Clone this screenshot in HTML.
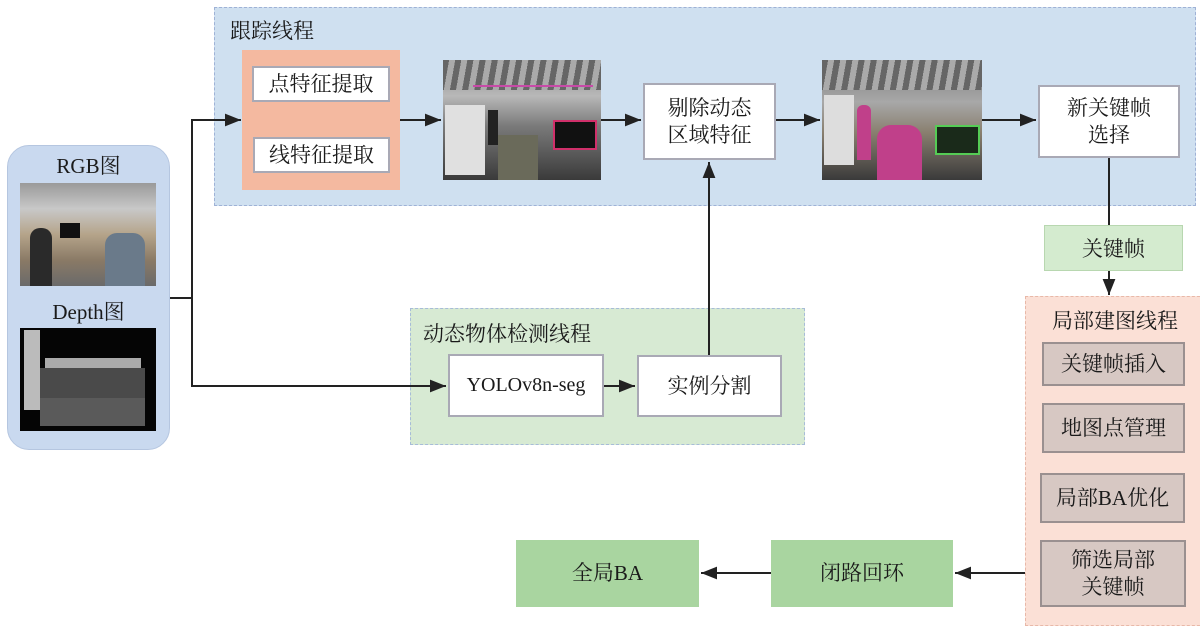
<!DOCTYPE html>
<html><head><meta charset="utf-8"><style>
body{margin:0;width:1200px;height:618px;background:#fff;position:relative;overflow:hidden;font-family:"Liberation Serif","Noto Serif CJK SC",serif;color:#1a1a1a}
.a{position:absolute;box-sizing:border-box}
.box{position:absolute;box-sizing:border-box;background:#fff;border:2px solid #a9a9b5;display:flex;align-items:center;justify-content:center;text-align:center;font-size:21px;line-height:27px}
.t{position:absolute;font-size:21px;white-space:nowrap}
</style></head><body>
<div class="a" style="left:214px;top:7px;width:982px;height:199px;background:#cfe0f0;border:1.5px dashed #9fb2d6"></div>
<div class="t" style="left:230px;top:15px">跟踪线程</div>
<div class="a" style="left:242px;top:50px;width:158px;height:140px;background:#f4b9a0"></div>
<div class="box" style="left:252px;top:66px;width:138px;height:36px">点特征提取</div>
<div class="box" style="left:253px;top:137px;width:137px;height:36px">线特征提取</div>
<div class="a" style="left:443px;top:60px;width:158px;height:120px;background:linear-gradient(180deg,#8a8a8a 0%,#b8b8b8 30%,#7a7a7a 55%,#3a3a3a 100%);overflow:hidden">
<div class="a" style="left:0;top:0;width:158px;height:30px;background:repeating-linear-gradient(100deg,#666 0 6px,#aaa 6px 12px)"></div>
<div class="a" style="left:2px;top:45px;width:40px;height:70px;background:#e0e0e0"></div>
<div class="a" style="left:110px;top:60px;width:44px;height:30px;background:#111;border:2px solid #d0306a"></div>
<div class="a" style="left:55px;top:75px;width:40px;height:45px;background:#6a6a5a"></div>
<div class="a" style="left:45px;top:50px;width:10px;height:35px;background:#222"></div>
<div class="a" style="left:30px;top:25px;width:120px;height:2px;background:#c84aa8"></div>
</div>
<div class="box" style="left:643px;top:83px;width:133px;height:77px">剔除动态<br>区域特征</div>
<div class="a" style="left:822px;top:60px;width:160px;height:120px;background:linear-gradient(180deg,#7a7a7a 0%,#a8a8a8 35%,#8a8070 60%,#3a3a3a 100%);overflow:hidden">
<div class="a" style="left:0;top:0;width:160px;height:30px;background:repeating-linear-gradient(100deg,#666 0 6px,#aaa 6px 12px)"></div>
<div class="a" style="left:2px;top:35px;width:30px;height:70px;background:#ddd"></div>
<div class="a" style="left:35px;top:45px;width:14px;height:55px;background:#c0408a;border-radius:6px 6px 0 0"></div>
<div class="a" style="left:55px;top:65px;width:45px;height:55px;background:#c0408a;border-radius:14px 14px 0 0"></div>
<div class="a" style="left:113px;top:65px;width:45px;height:30px;background:#1a2a1a;border:2px solid #5c5"></div>
</div>
<div class="box" style="left:1038px;top:85px;width:142px;height:73px">新关键帧<br>选择</div>
<div class="a" style="left:1044px;top:225px;width:139px;height:46px;background:#d4ebcf;border:1px solid #b8d7b0"></div>
<div class="t" style="left:1044px;top:233px;width:139px;text-align:center">关键帧</div>
<div class="a" style="left:1025px;top:296px;width:180px;height:330px;background:#fbe0d6;border:1.5px dashed #e8b8a8"></div>
<div class="t" style="left:1030px;top:305px;width:170px;text-align:center">局部建图线程</div>
<div class="box" style="left:1042px;top:342px;width:143px;height:44px;background:#d7c8c3;border-color:#9a9090">关键帧插入</div>
<div class="box" style="left:1042px;top:403px;width:143px;height:50px;background:#d7c8c3;border-color:#9a9090">地图点管理</div>
<div class="box" style="left:1040px;top:473px;width:145px;height:50px;background:#d7c8c3;border-color:#9a9090">局部BA优化</div>
<div class="box" style="left:1040px;top:540px;width:146px;height:67px;background:#d7c8c3;border-color:#9a9090">筛选局部<br>关键帧</div>
<div class="box" style="left:771px;top:540px;width:182px;height:67px;background:#a9d5a0;border:none">闭路回环</div>
<div class="box" style="left:516px;top:540px;width:183px;height:67px;background:#a9d5a0;border:none">全局BA</div>
<div class="a" style="left:410px;top:308px;width:395px;height:137px;background:#d7ead3;border:1.5px dashed #a7bcd8"></div>
<div class="t" style="left:423px;top:318px">动态物体检测线程</div>
<div class="box" style="left:448px;top:354px;width:156px;height:63px;font-size:20px">YOLOv8n-seg</div>
<div class="box" style="left:637px;top:355px;width:145px;height:62px">实例分割</div>
<div class="a" style="left:7px;top:145px;width:163px;height:305px;background:#c9d9ef;border:1px solid #b5c6e0;border-radius:22px"></div>
<div class="t" style="left:7px;top:150px;width:163px;text-align:center">RGB图</div>
<div class="a" style="left:20px;top:183px;width:136px;height:103px;background:linear-gradient(180deg,#9a9a9a 0%,#c8c8c8 25%,#b5a48a 50%,#8a7a66 75%,#6a6a6a 100%);overflow:hidden">
<div class="a" style="left:10px;top:45px;width:22px;height:58px;background:#2a2a2a;border-radius:10px 10px 0 0"></div>
<div class="a" style="left:85px;top:50px;width:40px;height:53px;background:#6a7a8a;border-radius:12px 12px 0 0"></div>
<div class="a" style="left:40px;top:40px;width:20px;height:15px;background:#111"></div>
</div>
<div class="t" style="left:7px;top:296px;width:163px;text-align:center">Depth图</div>
<div class="a" style="left:20px;top:328px;width:136px;height:103px;background:#050505;overflow:hidden">
<div class="a" style="left:4px;top:2px;width:16px;height:80px;background:#bbb"></div>
<div class="a" style="left:25px;top:30px;width:96px;height:10px;background:#aaa"></div>
<div class="a" style="left:20px;top:40px;width:105px;height:58px;background:#4a4a4a"></div>
<div class="a" style="left:20px;top:70px;width:105px;height:28px;background:#5a5a5a"></div>
</div>
<svg class="a" style="left:0;top:0" width="1200" height="618">
<defs><marker id="m" viewBox="0 0 10 10" refX="10" refY="5" markerWidth="8" markerHeight="8" orient="auto"><path d="M0,1 L10,5 L0,9 z" fill="#222"/></marker></defs>
<g stroke="#222" stroke-width="2" fill="none">
<path d="M170,298 H192 V120 H241" marker-end="url(#m)"/>
<path d="M192,298 V386 H446" marker-end="url(#m)"/>
<path d="M400,120 H441" marker-end="url(#m)"/>
<path d="M601,120 H641" marker-end="url(#m)"/>
<path d="M776,120 H820" marker-end="url(#m)"/>
<path d="M982,120 H1036" marker-end="url(#m)"/>
<path d="M604,386 H635" marker-end="url(#m)"/>
<path d="M709,355 V162" marker-end="url(#m)"/>
<path d="M1109,158 V225"/>
<path d="M1109,271 V295" marker-end="url(#m)"/>
<path d="M1025,573 H955" marker-end="url(#m)"/>
<path d="M771,573 H701" marker-end="url(#m)"/>
</g></svg>
</body></html>
